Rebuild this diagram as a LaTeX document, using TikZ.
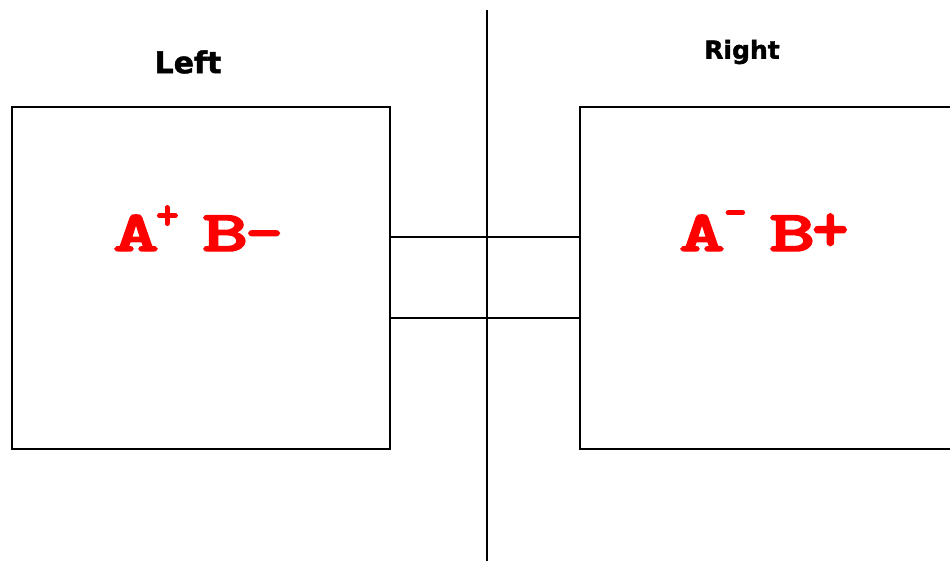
\documentclass[tikz,border=0pt]{standalone}
\usepackage{fontspec}
\usepackage{graphicx}
\newfontfamily\headfont{DejaVu Sans}[BoldFeatures={FakeBold=1.5}]
\newfontfamily\chargefont{lmmonolt10-bold}[Extension=.otf, FakeBold=2.5]
\newcommand{\wideglyph}[1]{\scalebox{1.5}[1]{#1}}
\newcommand{\supmark}[2]{\raisebox{#1}{\fontsize{44}{44}\selectfont #2}}
\tikzset{
  panel/.style={draw=black, line width=1.6pt, inner sep=0pt},
  link/.style={draw=black, line width=1.6pt},
  head/.style={text=black, inner sep=0pt},
  charge/.style={font=\chargefont\fontsize{58}{58}\selectfont, text=red, inner sep=0pt, anchor=base west}
}
\begin{document}
\begin{tikzpicture}[x=1pt,y=-1pt]
\useasboundingbox (0,0) rectangle (950,560);
\clip (0,0) rectangle (950,560);
\node[panel, minimum width=378pt, minimum height=342pt] (L) at (201,278) {};
\node[panel, minimum width=390pt, minimum height=342pt, anchor=west] (R) at (579,278) {};
\coordinate (vtop) at (487,10);
\coordinate (vbot) at (487,562);
\draw[link] (vtop) -- (vbot);
\draw[link] ([yshift=41pt]L.east) -- ([yshift=41pt]R.west);
\draw[link] ([yshift=-40pt]L.east) -- ([yshift=-40pt]R.west);
\node[head, font=\headfont\bfseries\fontsize{30}{30}\selectfont] (lt) at (188,62) {Left};
\node[head, font=\headfont\bfseries\fontsize{25}{25}\selectfont] (rt) at (742,52) {Right};
\node[charge] (lc) at (113,251) {\wideglyph{A}\hspace{-3pt}\supmark{22pt}{+}\hspace{-7pt} \wideglyph{B}\hspace{-3pt}\scalebox{1.25}[1]{\textendash}};
\node[charge] (rc) at (679,251) {\wideglyph{A}\hspace{-1pt}\supmark{25pt}{-}\hspace{-8pt} \wideglyph{B}\hspace{-3pt}\scalebox{1.2}{+}};
\end{tikzpicture}
\end{document}
